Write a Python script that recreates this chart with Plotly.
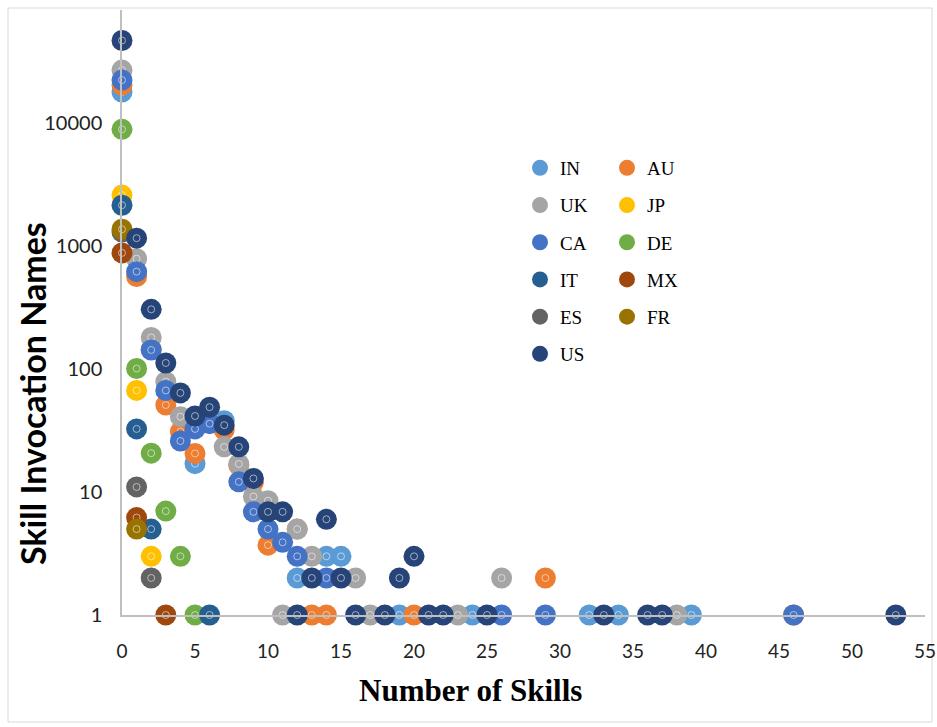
import plotly.graph_objects as go

# ---- data ----
series_names = ["IN", "AU", "UK", "JP", "CA", "DE", "IT", "MX", "ES", "FR", "US"]

IN_x = [0, 5, 7, 12, 14, 15, 19, 24, 32, 34, 39]
IN_y = [17900, 17, 38, 2, 3, 3, 1, 1, 1, 1, 1]

AU_x = [0, 1, 2, 3, 4, 5, 7, 8, 9, 10, 12, 13, 14, 20, 29, 46]
AU_y = [20400, 565, 145, 51, 31, 20.6, 32, 16.5, 12, 3.7, 5, 1, 1, 1, 2, 1]

UK_x = [0, 1, 2, 3, 4, 7, 8, 9, 10, 11, 12, 13, 16, 17, 23, 26, 38]
UK_y = [27000, 790, 181, 79, 41, 23.3, 16.9, 9.2, 8.5, 1, 5, 3, 2, 1, 1, 2, 1]

JP_x = [0, 1, 2]
JP_y = [2600, 67, 3]

CA_x = [0, 1, 2, 3, 4, 5, 6, 8, 9, 10, 11, 12, 14, 26, 29, 46]
CA_y = [22400, 620, 143, 67, 26, 32.6, 36, 12.1, 6.9, 5, 3.9, 3, 2, 1, 1, 1]

DE_x = [0, 1, 2, 3, 4, 5]
DE_y = [8900, 101, 20.7, 7, 3, 1]

IT_x = [0, 1, 2, 6]
IT_y = [2150, 32.6, 5, 1]

MX_x = [0, 1, 3]
MX_y = [880, 6.2, 1]

ES_x = [0, 1, 2]
ES_y = [1300, 11, 2]

FR_x = [0, 1]
FR_y = [1370, 5]

US_x = [0, 1, 2, 3, 4, 5, 6, 7, 8, 9, 10, 11, 12, 13, 14, 15, 16, 18, 19, 20, 21, 22, 25, 33, 36, 37, 53]
US_y = [47000, 1160, 306, 112, 64, 41.5, 49, 35, 23.3, 12.9, 6.9, 6.9, 1, 2, 6, 2, 1, 1, 2, 3, 1, 1, 1, 1, 1, 1, 1]

y_tick_vals = [1, 10, 100, 1000, 10000]
y_tick_text = ["1", "10", "100", "1000", "10000"]
x_tick_vals = [0, 5, 10, 15, 20, 25, 30, 35, 40, 45, 50, 55]

x_title = "Number of Skills"
y_title = "Skill Invocation Names"

# ---- styles ----
colors = {
    "IN": "#5B9BD5", "AU": "#ED7D31", "UK": "#A5A5A5", "JP": "#FFC000",
    "CA": "#4472C4", "DE": "#70AD47", "IT": "#255E91", "MX": "#9E480E",
    "ES": "#636363", "FR": "#997300", "US": "#264478",
}
legend_of = {
    "IN": "legend", "UK": "legend", "CA": "legend", "IT": "legend", "ES": "legend", "US": "legend",
    "AU": "legend2", "JP": "legend2", "DE": "legend2", "MX": "legend2", "FR": "legend2",
}
data = {
    "IN": (IN_x, IN_y), "AU": (AU_x, AU_y), "UK": (UK_x, UK_y), "JP": (JP_x, JP_y),
    "CA": (CA_x, CA_y), "DE": (DE_x, DE_y), "IT": (IT_x, IT_y), "MX": (MX_x, MX_y),
    "ES": (ES_x, ES_y), "FR": (FR_x, FR_y), "US": (US_x, US_y),
}

fig = go.Figure()
for name in series_names:
    xs, ys = data[name]
    fig.add_trace(go.Scatter(
        x=xs, y=ys, mode="markers", name=name,
        legend=legend_of[name], legendgroup=name,
        marker=dict(symbol="circle", size=21, color=colors[name], line=dict(width=0)),
        cliponaxis=False,
    ))
    # small light ring inside each marker (as in the original marker style)
    fig.add_trace(go.Scatter(
        x=xs, y=ys, mode="markers", showlegend=False, hoverinfo="skip",
        marker=dict(symbol="circle-open", size=7, color="rgba(255,255,255,0.55)",
                    line=dict(width=1, color="rgba(255,255,255,0.55)")),
        cliponaxis=False,
    ))

L, R, T, B = 122, 12, 10, 112
W, H = 937, 727
pw = W - L - R
ph = H - T - B


def px_to_paper_x(px):
    return (px - L) / pw


def py_to_paper_y(py):
    return (H - B - py) / ph


legend_common = dict(
    xanchor="left", yanchor="top", bgcolor="rgba(0,0,0,0)",
    font=dict(family="Liberation Serif", size=19, color="black"),
    tracegroupgap=9.5, itemwidth=30, itemclick=False,
)

fig.update_layout(
    width=W, height=H,
    margin=dict(l=L, r=R, t=T, b=B, autoexpand=False),
    paper_bgcolor="white", plot_bgcolor="white",
    showlegend=True,
    legend=dict(x=px_to_paper_x(520), y=py_to_paper_y(149), **legend_common),
    legend2=dict(x=px_to_paper_x(607), y=py_to_paper_y(149), **legend_common),
    xaxis=dict(
        range=[0, 55], tickvals=x_tick_vals, showgrid=False, zeroline=False, automargin=False,
        showline=True, linecolor="#BFBFBF", linewidth=1.5,
        ticks="outside", ticklen=18, tickcolor="rgba(0,0,0,0)",
        tickfont=dict(family="Lato", size=19, color="#222222"),
    ),
    yaxis=dict(
        type="log", range=[0, 4.92], tickvals=y_tick_vals, ticktext=y_tick_text,
        showgrid=False, zeroline=False, automargin=False,
        showline=True, linecolor="#BFBFBF", linewidth=1.5,
        ticks="outside", ticklen=14, tickcolor="rgba(0,0,0,0)",
        tickfont=dict(family="Lato", size=20, color="#222222"),
    ),
    annotations=[
        dict(text="<b>" + x_title + "</b>", xref="paper", yref="paper",
             x=px_to_paper_x(470), y=py_to_paper_y(690), xanchor="center", yanchor="middle",
             showarrow=False, font=dict(family="Liberation Serif", size=31, color="black")),
        dict(text="<b>" + y_title + "</b>", xref="paper", yref="paper", textangle=-90,
             x=px_to_paper_x(33), y=py_to_paper_y(394), xanchor="center", yanchor="middle",
             showarrow=False, font=dict(family="Lato", size=34, color="black")),
    ],
    shapes=[dict(
        type="rect", xref="paper", yref="paper",
        x0=px_to_paper_x(8), x1=px_to_paper_x(932),
        y0=py_to_paper_y(722), y1=py_to_paper_y(8),
        line=dict(color="#D9D9D9", width=1), fillcolor="rgba(0,0,0,0)", layer="below",
    )],
)

fig.write_html("out.html", config={"displayModeBar": False},
               post_script="document.body.style.margin='0px';")
